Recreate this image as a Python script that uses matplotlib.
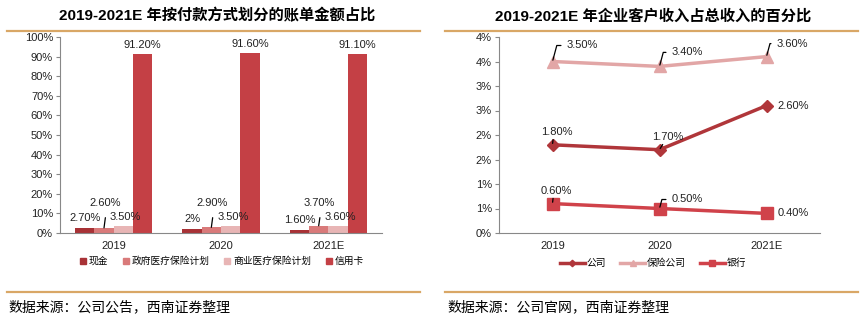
import matplotlib
matplotlib.use("Agg")
import matplotlib.pyplot as plt
from matplotlib.lines import Line2D
import numpy as np

plt.rcParams['font.family'] = ['Liberation Sans', 'Noto Sans CJK SC', 'DejaVu Sans']

# ---------------- data ----------------
years = ["2019", "2020", "2021E"]
bar_series = ["现金", "政府医疗保险计划", "商业医疗保险计划", "信用卡"]
cash = [2.7, 2.0, 1.6]
gov = [2.6, 2.9, 3.7]
comm = [3.5, 3.5, 3.6]
credit = [91.2, 91.6, 91.1]
cash_lbl = ["2.70%", "2%", "1.60%"]
gov_lbl = ["2.60%", "2.90%", "3.70%"]
comm_lbl = ["3.50%", "3.50%", "3.60%"]
credit_lbl = ["91.20%", "91.60%", "91.10%"]

line_series = ["公司", "保险公司", "银行"]
company = [1.8, 1.7, 2.6]
insurer = [3.5, 3.4, 3.6]
bank = [0.6, 0.5, 0.4]
company_lbl = ["1.80%", "1.70%", "2.60%"]
insurer_lbl = ["3.50%", "3.40%", "3.60%"]
bank_lbl = ["0.60%", "0.50%", "0.40%"]

left_title = "2019-2021E 年按付款方式划分的账单金额占比"
right_title = "2019-2021E 年企业客户收入占总收入的百分比"
left_src = "数据来源：公司公告，西南证券整理"
right_src = "数据来源：公司官网，西南证券整理"

# ---------------- style ----------------
W, H = 866, 322
c_cash = "#A83236"
c_gov = "#D97A7A"
c_comm = "#E8B5B5"
c_credit = "#C44045"
c_company = "#B0363A"
c_insurer = "#E2A6A6"
c_bank = "#D0424A"
gold = "#D9A766"
txt = "#222222"
fs = 8
lfs = 7

fig = plt.figure(figsize=(W / 100, H / 100), dpi=100)

def ax_rect(x0, x1, ytop, ybot):
    return [x0 / W, 1 - ybot / H, (x1 - x0) / W, (ybot - ytop) / H]

# decorative lines & titles
for (x0, x1) in [(7, 420), (445, 858)]:
    for y in (31, 292):
        fig.add_artist(Line2D([x0 / W, x1 / W], [1 - y / H, 1 - y / H],
                              color=gold, lw=1.6, transform=fig.transFigure))
fig.text(217 / W, 1 - 16 / H, left_title, ha="center", va="center",
         fontsize=11, fontweight="bold", color="black")
fig.text(653 / W, 1 - 16 / H, right_title, ha="center", va="center",
         fontsize=11, fontweight="bold", color="black")
fig.text(8 / W, 1 - 307 / H, left_src, ha="left", va="center",
         fontsize=10, style="italic", color="black")
fig.text(447 / W, 1 - 307 / H, right_src, ha="left", va="center",
         fontsize=10, style="italic", color="black")

def style_axes(ax):
    for s in ("top", "right"):
        ax.spines[s].set_visible(False)
    ax.spines["left"].set_color("#888888")
    ax.spines["bottom"].set_color("#888888")
    ax.tick_params(axis="y", length=3, color="#888888", labelsize=fs, labelcolor=txt, pad=2)
    ax.tick_params(axis="x", length=0, labelsize=fs, labelcolor=txt, pad=6)

# ---------------- left chart ----------------
axL = fig.add_axes(ax_rect(60, 382, 37, 233))
x = np.arange(len(years))
w = 0.18
cols = [c_cash, c_gov, c_comm, c_credit]
vals = [cash, gov, comm, credit]
for k, (v, c, name) in enumerate(zip(vals, cols, bar_series)):
    axL.bar(x + (k - 1.5) * w, v, width=w, color=c, label=name)
axL.set_xlim(-0.5, 2.5)
axL.set_ylim(0, 100)
axL.set_yticks(np.arange(0, 101, 10))
axL.set_yticklabels([f"{t}%" for t in range(0, 101, 10)])
axL.set_xticks(x)
axL.set_xticklabels(years)
style_axes(axL)
for i in range(len(years)):
    axL.text(x[i] - 1.5 * w, cash[i] + 4.9, cash_lbl[i], ha="center", va="center", fontsize=fs, color=txt)
    axL.text(x[i] + 0.5 * w + 0.02, comm[i] + 4.7, comm_lbl[i], ha="center", va="center", fontsize=fs, color=txt)
    axL.text(x[i] + 1.5 * w, credit[i] + 4.8, credit_lbl[i], ha="center", va="center", fontsize=fs, color=txt)
    axL.annotate(gov_lbl[i], xy=(x[i] - 0.5 * w, gov[i]),
                 xytext=(x[i] - 0.5 * w + 0.01, 15.3), ha="center", va="center",
                 fontsize=fs, color=txt,
                 arrowprops=dict(arrowstyle="-", color="black", lw=0.9,
                                 shrinkA=5, shrinkB=0,
                                 relpos=(0.55, 0.0)))
lL = bar_series
hL = [Line2D([0], [0], marker="s", color="none", markerfacecolor=c, markeredgecolor=c, markersize=4.5)
      for c in cols]
fig.legend(hL, lL, loc="center", bbox_to_anchor=(222 / W, 1 - 261 / H), ncol=4,
           frameon=False, fontsize=lfs, handlelength=0.6, handletextpad=0.3, columnspacing=1.5)

# ---------------- right chart ----------------
axR = fig.add_axes(ax_rect(499, 820, 37, 233))
axR.plot(x, company, color=c_company, lw=2.5, marker="D", markersize=6, label=line_series[0])
axR.plot(x, insurer, color=c_insurer, lw=2.5, marker="^", markersize=8, label=line_series[1])
axR.plot(x, bank, color=c_bank, lw=2.5, marker="s", markersize=8, label=line_series[2])
axR.set_xlim(-0.5, 2.5)
axR.set_ylim(0, 4)
yt = np.arange(0, 4.01, 0.5)
axR.set_yticks(yt)
axR.set_yticklabels([f"{int(np.floor(t + 0.5))}%" for t in yt])
axR.set_xticks(x)
axR.set_xticklabels(years)
style_axes(axR)

ak = dict(fontsize=fs, color=txt, textcoords="offset pixels")

def elbow(ax, lbl, xv, yv, dx, dy):
    ax.annotate(lbl, xy=(xv, yv), xytext=(dx, dy), ha="left", va="center",
                arrowprops=dict(arrowstyle="-", color="black", lw=0.9,
                                shrinkA=2, shrinkB=1,
                                connectionstyle="angle,angleA=0,angleB=75"),
                **ak)

def above(ax, lbl, xv, yv, dx, dy):
    ax.annotate(lbl, xy=(xv, yv), xytext=(dx, dy), ha="center", va="center",
                arrowprops=dict(arrowstyle="-", color="black", lw=0.9,
                                shrinkA=5, shrinkB=1, relpos=(0.4, 0.0)),
                **ak)

def right(ax, lbl, xv, yv, dx):
    ax.annotate(lbl, xy=(xv, yv), xytext=(dx, 0), ha="left", va="center", **ak)

# insurer
elbow(axR, insurer_lbl[0], x[0], insurer[0], 14, 16)
elbow(axR, insurer_lbl[1], x[1], insurer[1], 12, 14)
elbow(axR, insurer_lbl[2], x[2], insurer[2], 10, 13)
# company
above(axR, company_lbl[0], x[0], company[0], 4, 13)
above(axR, company_lbl[1], x[1], company[1], 8, 13)
right(axR, company_lbl[2], x[2], company[2], 11)
# bank
above(axR, bank_lbl[0], x[0], bank[0], 4, 13)
elbow(axR, bank_lbl[1], x[1], bank[1], 12, 9)
right(axR, bank_lbl[2], x[2], bank[2], 11)

hR, lR = axR.get_legend_handles_labels()
fig.legend(hR, lR, loc="center", bbox_to_anchor=(653 / W, 1 - 263 / H), ncol=3,
           frameon=False, fontsize=lfs, handlelength=2.6, handletextpad=0.2,
           columnspacing=1.4, markerscale=0.55)

fig.savefig("out.png", dpi=100)
